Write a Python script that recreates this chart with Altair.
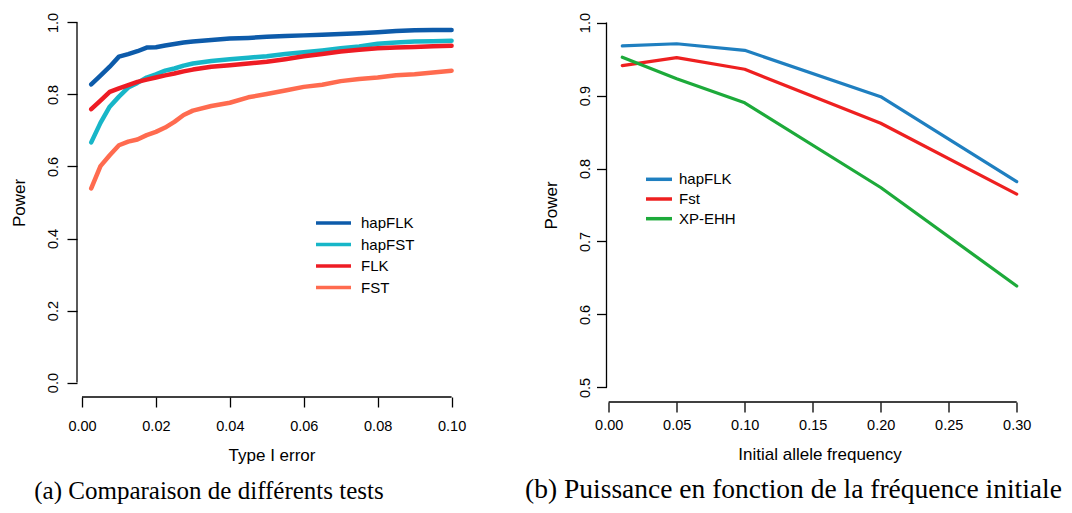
import altair as alt
import pandas as pd

# ---------------- Panel (a) data ----------------
alpha = [0.0025, 0.005, 0.0075, 0.01, 0.0125, 0.015, 0.0175, 0.02, 0.0225, 0.025,
         0.0275, 0.03, 0.035, 0.04, 0.045, 0.05, 0.055, 0.06, 0.065, 0.07,
         0.075, 0.08, 0.085, 0.09, 0.095, 0.1]
hapflk_a = [0.828, 0.852, 0.877, 0.905, 0.912, 0.920, 0.930, 0.931, 0.936, 0.940,
            0.944, 0.947, 0.951, 0.955, 0.957, 0.960, 0.962, 0.964, 0.966, 0.968,
            0.970, 0.973, 0.976, 0.978, 0.979, 0.979]
hapfst_a = [0.667, 0.721, 0.766, 0.794, 0.819, 0.832, 0.847, 0.856, 0.866, 0.872,
            0.880, 0.886, 0.893, 0.898, 0.902, 0.906, 0.912, 0.917, 0.922, 0.928,
            0.933, 0.941, 0.944, 0.947, 0.948, 0.949]
flk_a = [0.759, 0.783, 0.807, 0.817, 0.826, 0.835, 0.841, 0.847, 0.853, 0.858,
         0.864, 0.869, 0.877, 0.881, 0.886, 0.891, 0.898, 0.906, 0.912, 0.919,
         0.924, 0.928, 0.930, 0.932, 0.934, 0.935]
fst_a = [0.539, 0.601, 0.631, 0.659, 0.669, 0.675, 0.687, 0.696, 0.708, 0.724,
         0.743, 0.755, 0.768, 0.777, 0.792, 0.801, 0.811, 0.821, 0.827, 0.837,
         0.843, 0.847, 0.853, 0.856, 0.861, 0.866]
methods_a = ["hapFLK", "hapFST", "FLK", "FST"]
colors_a = ["#0D5BAA", "#17B6C8", "#EE1C24", "#FF6B4F"]
xticks_a = [0.0, 0.02, 0.04, 0.06, 0.08, 0.10]
yticks_a = [0.0, 0.2, 0.4, 0.6, 0.8, 1.0]

# ---------------- Panel (b) data ----------------
freq = [0.01, 0.05, 0.10, 0.20, 0.30]
hapflk_b = [0.968, 0.971, 0.962, 0.8985, 0.782]
fst_b = [0.941, 0.952, 0.936, 0.862, 0.765]
xpehh_b = [0.9525, 0.923, 0.890, 0.774, 0.639]
methods_b = ["hapFLK", "Fst", "XP-EHH"]
colors_b = ["#1F7FC0", "#EE2020", "#1DAA3A"]
xticks_b = [0.0, 0.05, 0.10, 0.15, 0.20, 0.25, 0.30]
yticks_b = [0.5, 0.6, 0.7, 0.8, 0.9, 1.0]

FONT = "Liberation Sans"
LONG_STROKE = "M-2,0H2"   # legend key: a horizontal line twice the symbol box width

dfa = pd.DataFrame({
    "alpha": alpha * 4,
    "power": hapflk_a + hapfst_a + flk_a + fst_a,
    "method": sum([[m] * len(alpha) for m in methods_a], []),
})
dfb = pd.DataFrame({
    "freq": freq * 3,
    "power": hapflk_b + fst_b + xpehh_b,
    "method": sum([[m] * len(freq) for m in methods_b], []),
})


def axis(values, fmt, title, angle=0, pad=8, tpad=10):
    kw = dict(values=values, format=fmt, title=title, domain=False, grid=False,
              tickSize=10, tickColor="black", tickWidth=1.3,
              labelFont=FONT, labelFontSize=14.5, labelColor="black",
              labelPadding=pad, titleFont=FONT, titleFontSize=17,
              titleFontWeight="normal", titleColor="black", titlePadding=tpad)
    if angle:
        kw.update(labelAngle=angle, labelAlign="center", labelBaseline="bottom")
    return alt.Axis(**kw)


# ---------- panel (a) ----------
xa_dom = [-0.00135, 0.1039]
ya_dom = [-0.04, 1.04]
xsa = alt.Scale(domain=xa_dom, nice=False, zero=False)
ysa = alt.Scale(domain=ya_dom, nice=False, zero=False)

lines_a = alt.Chart(dfa).mark_line(strokeWidth=4.5, strokeCap="round", strokeJoin="round").encode(
    x=alt.X("alpha:Q", scale=xsa, axis=axis(xticks_a, ".2f", "Type I error", pad=12.5, tpad=14.5)),
    y=alt.Y("power:Q", scale=ysa, axis=axis(yticks_a, ".1f", "Power", angle=270, pad=7, tpad=17)),
    color=alt.Color("method:N", sort=methods_a,
                    scale=alt.Scale(domain=methods_a, range=colors_a),
                    legend=alt.Legend(title=None, orient="none", legendX=246, legendY=204.5,
                                      symbolType=LONG_STROKE, symbolSize=306, symbolStrokeWidth=3.5,
                                      labelFont=FONT, labelFontSize=15, labelColor="black",
                                      labelOffset=17, rowPadding=2.5)),
    detail="method:N",
)
one = pd.DataFrame({"k": [0]})
yline_a = alt.Chart(one).mark_rule(color="black", strokeWidth=1.3).encode(
    x=alt.datum(xa_dom[0]), y=alt.datum(yticks_a[0]), y2=alt.datum(yticks_a[-1]))
xline_a = alt.Chart(one).mark_rule(color="black", strokeWidth=1.3).encode(
    y=alt.datum(ya_dom[0]), x=alt.datum(xticks_a[0]), x2=alt.datum(xticks_a[-1]))

panel_a = alt.layer(lines_a, yline_a, xline_a).properties(
    width=389, height=389,
    title=alt.TitleParams("(a) Comparaison de différents tests", orient="bottom",
                          font="Liberation Serif", fontSize=25, fontWeight="normal",
                          color="black", anchor="middle", dx=-62.5, offset=15),
)

# ---------- panel (b) ----------
xb_dom = [-0.0016, 0.3116]
yb_dom = [0.48, 1.02]
xsb = alt.Scale(domain=xb_dom, nice=False, zero=False)
ysb = alt.Scale(domain=yb_dom, nice=False, zero=False)

lines_b = alt.Chart(dfb).mark_line(strokeWidth=3.2, strokeCap="round", strokeJoin="round").encode(
    x=alt.X("freq:Q", scale=xsb, axis=axis(xticks_b, ".2f", "Initial allele frequency", pad=6.5, tpad=14.5)),
    y=alt.Y("power:Q", scale=ysb, axis=axis(yticks_b, ".1f", "Power", angle=270, pad=4, tpad=17)),
    color=alt.Color("method:N", sort=methods_b,
                    scale=alt.Scale(domain=methods_b, range=colors_b),
                    legend=alt.Legend(title=None, orient="none", legendX=44, legendY=162.8,
                                      symbolType=LONG_STROKE, symbolSize=169, symbolStrokeWidth=3.5,
                                      labelFont=FONT, labelFontSize=15, labelColor="black",
                                      labelOffset=11.5, rowPadding=2.7)),
    detail="method:N",
)
yline_b = alt.Chart(one).mark_rule(color="black", strokeWidth=1.3).encode(
    x=alt.datum(xb_dom[0]), y=alt.datum(yticks_b[0]), y2=alt.datum(yticks_b[-1]))
xline_b = alt.Chart(one).mark_rule(color="black", strokeWidth=1.3).encode(
    y=alt.datum(yb_dom[0]), x=alt.datum(xticks_b[0]), x2=alt.datum(xticks_b[-1]))

panel_b = alt.layer(lines_b, yline_b, xline_b).properties(
    width=426, height=394,
    title=alt.TitleParams("(b) Puissance en fonction de la fréquence initiale", orient="bottom",
                          font="Liberation Serif", fontSize=27.5, fontWeight="normal",
                          color="black", anchor="middle", dx=-26, offset=13),
)

chart = alt.hconcat(panel_a, panel_b, spacing=58.5).resolve_scale(
    color="independent", x="independent", y="independent"
).properties(padding={"left": 2, "top": 0, "right": 0, "bottom": 0}).configure_view(stroke=None)

chart.save("out.html", embed_options={"renderer": "svg", "actions": False})
